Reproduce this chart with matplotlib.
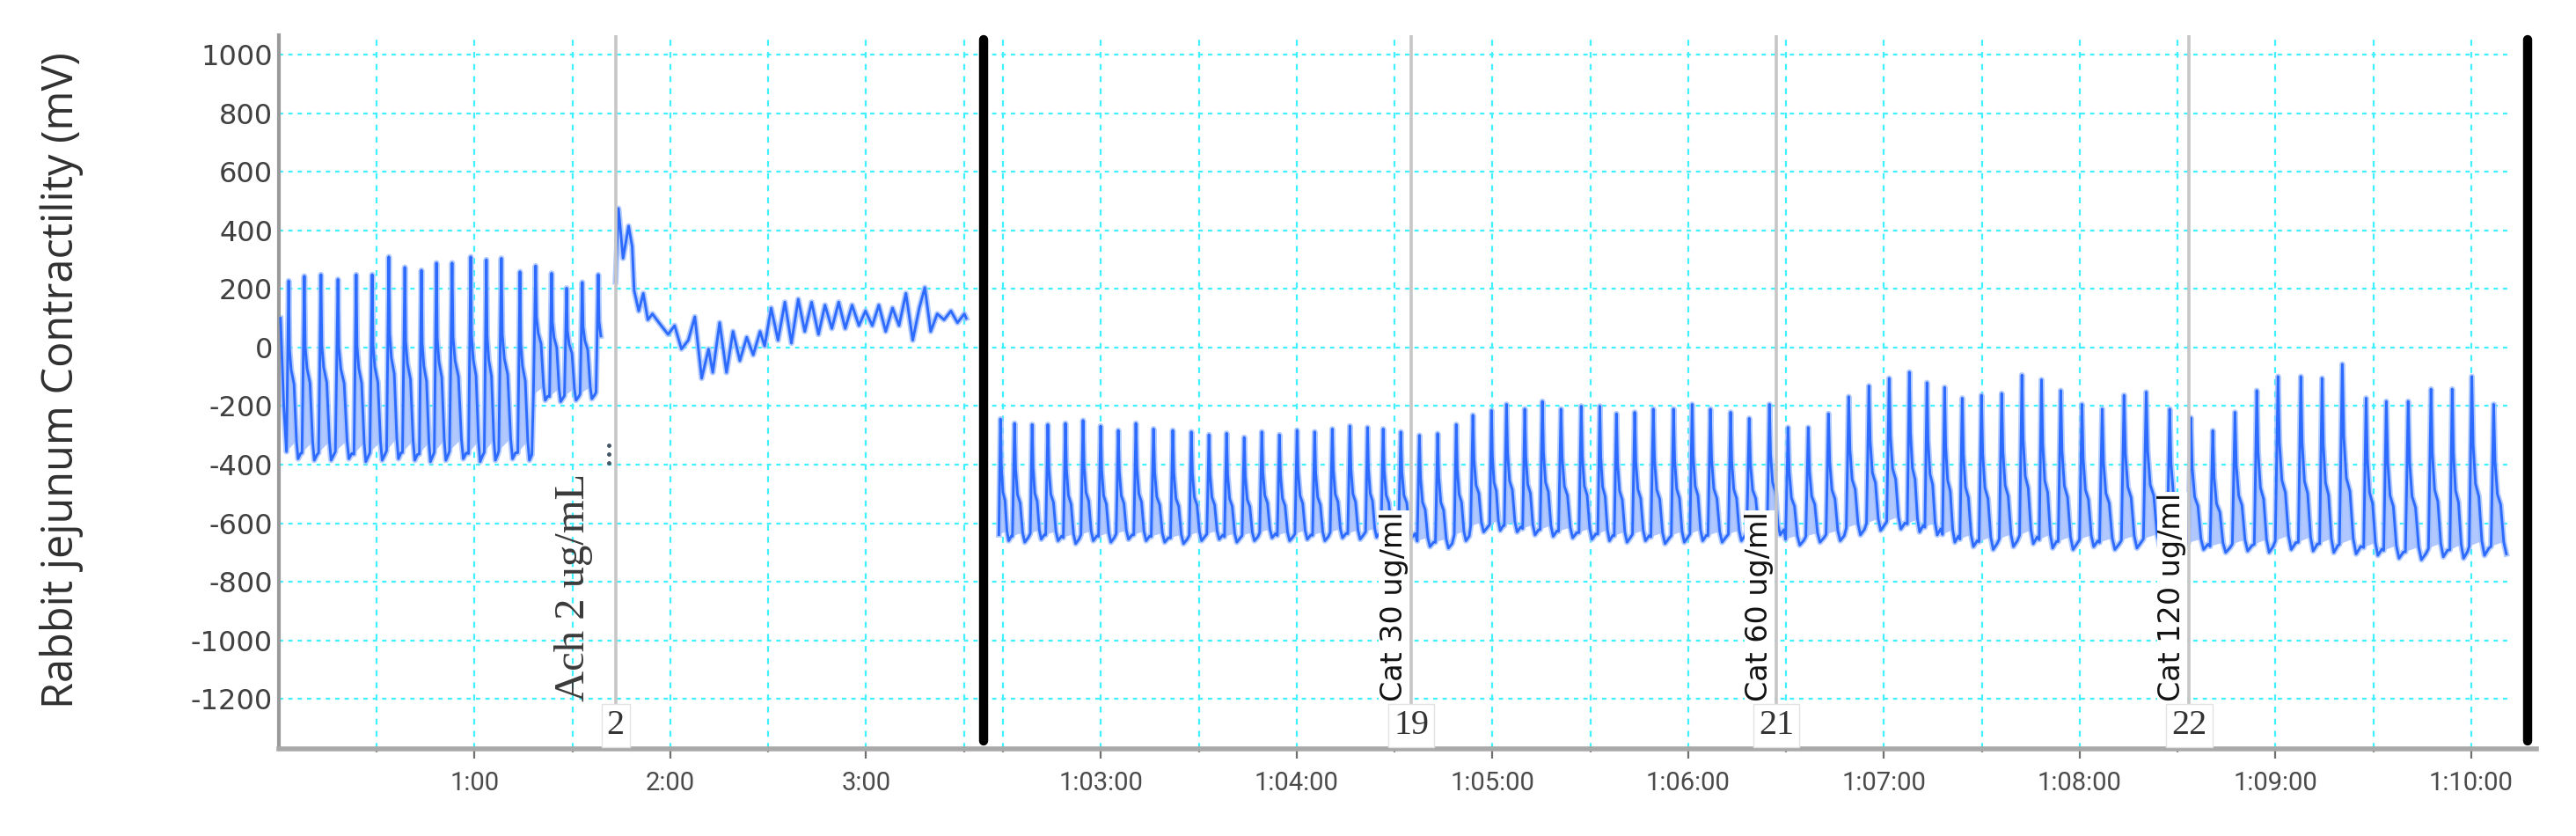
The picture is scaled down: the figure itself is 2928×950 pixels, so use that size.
import numpy as np
import matplotlib
matplotlib.use("Agg")
import matplotlib.pyplot as plt
from matplotlib.collections import PolyCollection

plt.rcParams['axes.unicode_minus'] = False

# ---------------- data (recording time in s, signal in mV) ----------------
# segment 1 : baseline before / response to acetylcholine
seg1_lead_t = [0.5, 1.5]
seg1_lead_v = [100, -200]
seg1_peak_t = [3.0, 7.8, 12.9, 18.1, 23.7, 28.6, 33.7, 38.6, 43.7, 48.3,
               53.1, 58.8, 63.6, 68.2, 73.9, 78.7, 83.6, 88.2, 93.0, 97.9]
seg1_peak_v = [228, 244, 249, 233, 249, 249, 310, 274, 264, 289,
               289, 310, 300, 305, 259, 279, 254, 203, 223, 249]
seg1_trough_v = [-380, -385, -385, -380, -390, -385, -380, -385, -390, -385,
                 -380, -390, -385, -380, -385, -180, -185, -180, -175, -170]
seg1_end = 99.5

ach_t = [103.2, 104.1, 105.5, 107.2, 108.3, 108.9, 110.3, 111.7, 113.1, 114.5,
         116.5, 119.3, 121.3, 123.4, 125.5, 127.5, 129.6, 131.7, 133.0, 135.1,
         137.2, 139.2, 141.3, 143.4, 145.4, 147.5, 148.9, 150.9, 153.0, 155.1,
         157.1, 159.2, 161.2, 163.3, 165.4, 167.4, 169.5, 171.6, 173.6, 175.7,
         177.8, 179.8, 181.9, 183.9, 186.0, 188.1, 190.1, 192.2, 194.3, 196.3,
         198.0, 199.8, 201.8, 203.9, 206.0, 208.0, 210.1, 210.7]
ach_v = [225, 475, 305, 415, 345, 195, 125, 185, 95, 115,
         85, 45, 75, -5, 25, 105, -105, -5, -85, 85,
         -85, 55, -45, 35, -25, 55, 5, 135, 25, 155,
         15, 165, 55, 155, 45, 145, 65, 155, 65, 145,
         75, 125, 75, 145, 55, 135, 75, 185, 25, 135,
         205, 55, 115, 95, 125, 85, 115, 100]

# segment 2 : catecholamine additions (time from 1:02:24)
seg2_peak_t = [3749.2, 3753.5, 3758.9, 3763.7, 3769.1, 3774.5, 3779.9, 3785.3, 3790.7, 3796.1,
               3802.0, 3807.7, 3813.1, 3818.5, 3823.9, 3829.3, 3834.7, 3840.1, 3845.5, 3850.9,
               3856.3, 3861.7, 3866.5, 3871.9,
               3877.6, 3883.2, 3888.9, 3894.0, 3899.7, 3904.3, 3909.9, 3915.3, 3921.0, 3927.2,
               3932.9, 3938.0, 3943.6, 3949.3, 3955.5, 3961.2, 3966.8, 3973.0, 3978.7, 3984.9,
               3990.6, 3996.8, 4003.0, 4009.2, 4015.4, 4021.6, 4027.8, 4033.2, 4038.6, 4044.0,
               4049.9, 4056.1, 4062.3, 4068.3, 4074.2, 4080.7, 4086.9, 4093.6, 4100.4, 4107.6,
               4114.1, 4120.8, 4127.6, 4134.3, 4140.8, 4147.8, 4154.3, 4160.5, 4167.8, 4174.0,
               4180.7, 4187.7, 4194.2, 4200.2, 4206.9]
seg2_peak_v = [-244, -259, -263, -263, -259, -249, -268, -283, -259, -278,
               -283, -288, -298, -293, -307, -288, -298, -283, -288, -278,
               -268, -273, -278, -288,
               -300, -294, -263, -231, -215, -194, -210, -184, -210, -200,
               -200, -226, -221, -210, -210, -194, -210, -221, -242, -194,
               -273, -273, -226, -168, -131, -105, -84, -120, -136, -173,
               -163, -157, -94, -110, -147, -194, -210, -163, -152, -210,
               -240, -284, -221, -147, -99, -99, -105, -57, -173, -184,
               -184, -142, -142, -99, -194]
seg2_trough_v = [-660, -665, -655, -660, -670, -660, -665, -655, -660, -665,
                 -670, -660, -655, -665, -660, -650, -660, -655, -660, -650,
                 -655, -648, -655, -650,
                 -680, -685, -660, -630, -625, -630, -640, -645, -650, -655,
                 -660, -665, -660, -670, -665, -660, -665, -660, -650, -640,
                 -675, -665, -660, -640, -625, -620, -630, -640, -665, -680,
                 -690, -680, -670, -685, -690, -680, -690, -685, -680, -690,
                 -690, -700, -695, -700, -690, -695, -700, -705, -710, -720,
                 -725, -715, -720, -710, -705]
seg2_end = 4211.0

# drug additions
event_t = [103.2, 3875.1, 3987.1, 4113.6]
event_text = ['Ach 2 ug/mL', 'Cat 30 ug/ml', 'Cat 60 ug/ml', 'Cat 120 ug/ml']
event_num = ['2', '19', '21', '22']

# time axis (two recorded windows joined at a break)
break_seg1_end = 216.0      # 3:36
break_seg2_start = 3744.0   # 1:02:24
trace_end_mark = 4217.3
x_major_t = [60, 120, 180, 3780, 3840, 3900, 3960, 4020, 4080, 4140, 4200]
x_major_lbl = ['1:00', '2:00', '3:00', '1:03:00', '1:04:00', '1:05:00', '1:06:00',
               '1:07:00', '1:08:00', '1:09:00', '1:10:00']
x_minor_t = [30, 90, 150, 210, 3750, 3810, 3870, 3930, 3990, 4050, 4110, 4170]
y_ticks = [1000, 800, 600, 400, 200, 0, -200, -400, -600, -800, -1000, -1200]

OFFSET = break_seg2_start - break_seg1_end


def disp(t):
    t = np.asarray(t, dtype=float)
    return np.where(t < 1000, t, t - OFFSET)


# waveform outline of one contraction, as (fraction of period, fraction of amplitude)
SHAPE = {
    'seg1': [(-0.14, 0.04), (0.0, 1.0), (0.05, 0.62), (0.16, 0.50), (0.34, 0.42),
             (0.50, 0.10), (0.60, 0.0), (0.76, 0.03)],
    'seg2': [(-0.12, 0.05), (0.0, 1.0), (0.06, 0.62), (0.17, 0.40), (0.32, 0.33),
             (0.46, 0.08), (0.58, 0.0), (0.78, 0.04)],
}
N_FILL = 6  # first N points of the outline enclose the light interior


def build(pt, pv, tv, shape, t_end):
    xs, ys, polys = [], [], []
    n = len(pt)
    for i in range(n):
        P = pt[i + 1] - pt[i] if i < n - 1 else pt[i] - pt[i - 1]
        a = pv[i] - tv[i]
        cx = [pt[i] + f * P for f, _ in shape]
        cy = [tv[i] + g * a for _, g in shape]
        for xx, yy in zip(cx, cy):
            if xx <= t_end:
                xs.append(xx)
                ys.append(yy)
        if cx[N_FILL - 1] <= t_end:
            polys.append(list(zip(disp(cx[:N_FILL]), cy[:N_FILL])))
    return xs, ys, polys


# ---------------- figure ----------------
W, H = 2928, 950
fig = plt.figure(figsize=(W / 100, H / 100), dpi=100)
ax = fig.add_axes([317 / W, 99 / H, 2566 / W, 811 / H])
XMAX = 692.0
YMIN, YMAX = -1371, 1067
ax.set_xlim(0, XMAX)
ax.set_ylim(YMIN, YMAX)

grid_c = '#3ff0ff'
for y in y_ticks:
    ax.plot([0, 683], [y, y], color=grid_c, lw=1.6, ls=(0, (2.2, 2.6)), zorder=1)
for x in disp(x_major_t + x_minor_t):
    ax.plot([x, x], [YMIN, YMAX], color=grid_c, lw=1.6, ls=(0, (3.0, 3.2)), zorder=1)

trace_c = '#2d6bff'
fill_c = '#b0c8ff'
x1, y1, p1 = build(seg1_peak_t, seg1_peak_v, seg1_trough_v, SHAPE['seg1'], seg1_end)
x2, y2, p2 = build(seg2_peak_t, seg2_peak_v, seg2_trough_v, SHAPE['seg2'], seg2_end)
ax.add_collection(PolyCollection(p1 + p2, facecolors=fill_c, edgecolors='none', zorder=2))

traces = [(disp(seg1_lead_t + x1), seg1_lead_v + y1),
          (disp(ach_t), ach_v),
          (disp(x2), y2)]
for xx, yy in traces:
    ax.plot(xx, yy, color='#9dbcff', lw=4.8, zorder=2.5, solid_joinstyle='round',
            alpha=0.75)
    ax.plot(xx, yy, color=trace_c, lw=2.1, zorder=3, solid_joinstyle='round')

# event markers
for t, txt, num in zip(event_t, event_text, event_num):
    xd = float(disp(t))
    ax.plot([xd, xd], [-1215, YMAX], color='#c6c6c6', lw=2.6, zorder=4)
    if txt.startswith('Ach'):
        ax.text(xd - 7.0, -1208, txt, rotation=90, ha='right', va='bottom',
                family='Liberation Serif', fontsize=35, color='#3a3a3a', zorder=5)
    else:
        ax.text(xd - 0.8, -1208, txt, rotation=90, ha='right', va='bottom',
                family='DejaVu Sans', fontsize=24, color='#111111', zorder=5,
                bbox=dict(boxstyle='square,pad=0.02', fc='white', ec='none'))
    ax.text(xd, -1292, num, ha='center', va='center', family='Liberation Serif',
            fontsize=29, color='#333333', zorder=5,
            bbox=dict(boxstyle='square,pad=0.15', fc='white', ec='#e2e2e2', lw=1))

# small mark near the Ach addition
ax.plot([101.2, 101.2, 101.2], [-335, -365, -395], ls='none', marker='o', ms=2.5,
        color='#445566', zorder=5)

# break line and end line
for xb in [break_seg1_end, float(disp(trace_end_mark))]:
    ax.plot([xb, xb], [-1345, 1052], color='black', lw=7.5, solid_capstyle='round',
            zorder=6, clip_on=False)

# axes styling
for s in ['top', 'right']:
    ax.spines[s].set_visible(False)
ax.spines['left'].set_color('#9a9a9a')
ax.spines['left'].set_linewidth(3)
ax.spines['bottom'].set_color('#a9a9a9')
ax.spines['bottom'].set_linewidth(4)

ax.set_yticks(y_ticks)
ax.set_yticklabels([str(v) for v in y_ticks], family='DejaVu Sans', fontsize=23,
                   color='#404040')
ax.tick_params(axis='y', length=0, pad=5)

ax.set_xticks(disp(x_major_t))
ax.set_xticklabels(x_major_lbl, family='Roboto', fontsize=21, color='#4a4a4a')
ax.set_xticks(disp(x_minor_t), minor=True)
ax.tick_params(axis='x', which='major', length=8, width=1.6, color='#707070', pad=10)
ax.tick_params(axis='x', which='minor', length=3, width=1.6, color='#8a8a8a')

fig.text(70.5 / W, 1 - 432 / H, 'Rabbit jejunum Contractility (mV)', rotation=90,
         ha='center', va='center', family='Open Sans', fontsize=35, color='#303030')

fig.savefig('out.png', dpi=100, facecolor='white')
